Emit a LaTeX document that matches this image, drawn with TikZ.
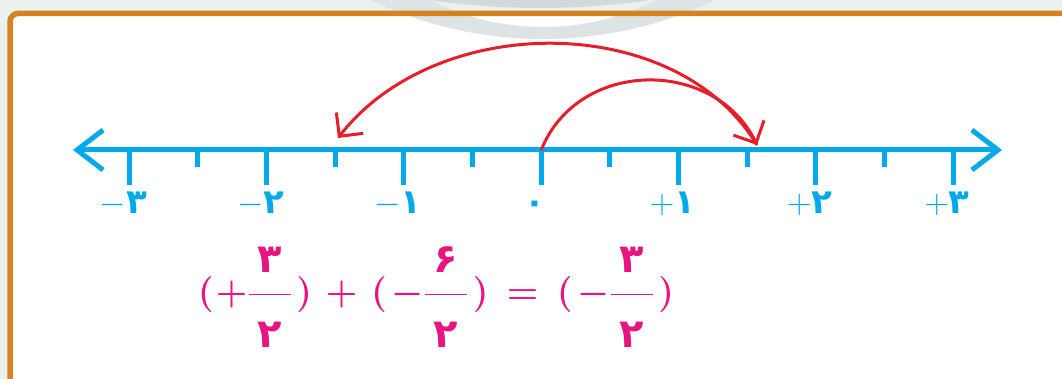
\documentclass[tikz,border=0pt]{standalone}
\usepackage{fix-cm}
\usepackage{amsmath,fontspec}
\usetikzlibrary{arrows.meta}
\newfontfamily\fa[Script=Arabic]{DejaVu Sans}
\definecolor{numB}{RGB}{0,170,234}
\definecolor{arcR}{RGB}{230,30,40}
\definecolor{eqM}{RGB}{232,20,130}
\definecolor{frameO}{RGB}{213,131,32}
\definecolor{bgG}{RGB}{237,241,238}
\definecolor{ringG}{RGB}{222,228,229}
\definecolor{ringD}{RGB}{210,217,219}
\newcommand{\pf}[2]{\dfrac{\raisebox{5pt}{\makebox[42pt]{\fa\bfseries\fontsize{40}{40}\selectfont#1}}}{\raisebox{-16pt}{\makebox[42pt]{\fa\bfseries\fontsize{40}{40}\selectfont#2}}}}

\begin{document}
\begin{tikzpicture}[x=1pt,y=1pt,>={Straight Barb[length=17pt,width=34pt]}]
\useasboundingbox (0,0) rectangle (1062,379); \clip (0,0) rectangle (1062,379);
\fill[bgG] (0,0) rectangle (1062,379);
\fill[white] (10,-20) rectangle (1080,365.5);
\fill[ringG,even odd rule] (543,739) circle (399) (543,602) circle (250);
\fill[ringD] (540,1127) circle (756);
\draw[frameO,line width=5.5pt,rounded corners=8pt] (10,-20)--(10,365.5)--(1080,365.5);
\coordinate (L) at (73,229); \coordinate (R) at (1002,229);
\draw[numB,line width=5pt,{Straight Barb[length=26pt,width=40pt]}-{Straight Barb[length=26pt,width=40pt]}] (L)--(R);
\foreach \i in {-3,...,3} \draw[numB,line width=5pt] (541.2+137.3*\i,229) coordinate (t\i)--++(0,-35);
\foreach \i in {-2.5,-1.5,-0.5,0.5,1.5,2.5} \draw[numB,line width=5pt] (541.2+137.3*\i,229)--++(0,-17);
\foreach \i/\t in {-3/{$-$۳},-2/{$-$۲},-1/{$-$۱},0/۰,1/{$+$۱},2/{$+$۲},3/{$+$۳}}
  \node[text=numB,font=\fa\bfseries\fontsize{34}{36}\selectfont,anchor=base,inner sep=0] (n\i) at (535.2+137.3*\i,165) {\t};
\coordinate (hA) at (338,241); \coordinate (hB) at (757,234);
\draw[->,arcR,line width=3pt] (t0) .. controls +(37,92) and +(-42,87) .. (hB);
\draw[->,arcR,line width=3pt] (hB) .. controls +(-81,134) and +(99,127) .. (hA);
\node[text=eqM,font=\fontsize{36}{40}\selectfont\boldmath,anchor=base,inner sep=0] (eq) at (436,75)
  {$(\mkern1mu+\pf{۳}{۲}\mkern2mu)\mkern2mu+\mkern2mu(\mkern2mu-\pf{۶}{۲}\mkern2mu)\mkern3mu=\mkern3mu(\mkern2mu-\pf{۳}{۲}\mkern2mu)$};
\end{tikzpicture}
\end{document}
